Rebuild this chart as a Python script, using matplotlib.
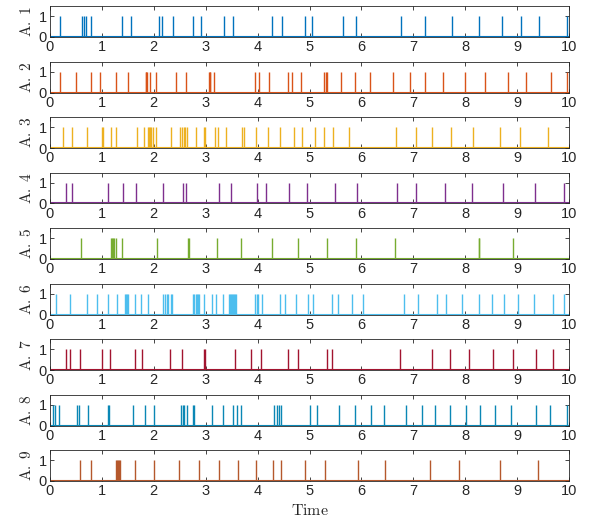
"""
Spike trains for nine units over a 10 s window, one panel per unit.
"""
import matplotlib.pyplot as plt

plt.rcParams["font.family"] = ["Liberation Sans", "DejaVu Sans"]
plt.rcParams["mathtext.fontset"] = "cm"

# spike times (s) for each unit
a1 = [0.197, 0.62, 0.656, 0.692, 0.787, 1.385, 1.56, 2.106, 2.15, 2.376,
      2.762, 2.915, 3.353, 3.52, 4.27, 4.475, 4.905, 5.05, 5.64, 5.896,
      6.757, 7.23, 7.74, 8.265, 8.70, 9.067, 9.417, 9.96]
a2 = [0.197, 0.51, 0.794, 0.955, 1.268, 1.509, 1.844, 1.858, 1.873, 1.924,
      2.041, 2.435, 2.617, 3.061, 3.076, 3.09, 3.163, 3.95, 4.023, 4.22,
      4.584, 4.657, 4.832, 5.284, 5.313, 5.342, 5.612, 5.882, 6.159, 6.611,
      6.939, 7.23, 7.573, 7.988, 8.382, 8.819, 9.176, 9.65, 9.96]
a3 = [0.248, 0.43, 0.707, 0.999, 1.02, 1.166, 1.268, 1.676, 1.808, 1.888,
      1.91, 1.932, 1.954, 1.975, 2.034, 2.325, 2.5, 2.537, 2.573, 2.602,
      2.631, 2.821, 2.966, 2.988, 3.185, 3.243, 3.389, 3.695, 3.732, 3.965,
      4.198, 4.431, 4.708, 4.861, 5.102, 5.277, 5.445, 5.766, 6.669, 7.048,
      7.362, 7.726, 8.149, 8.673, 9.06, 9.592]
a4 = [0.313, 0.423, 1.122, 1.399, 1.662, 2.172, 2.558, 2.617, 3.265, 3.491,
      3.987, 4.162, 4.599, 4.949, 5.496, 5.911, 6.684, 7.048, 7.617, 8.127,
      8.732, 9.352, 9.913]
a5 = [0.59, 1.173, 1.195, 1.217, 1.239, 1.276, 1.378, 2.055, 2.66, 2.67,
      3.222, 3.681, 4.286, 4.774, 5.328, 5.889, 6.64, 8.265, 8.275, 8.914]
a6 = [0.124, 0.379, 0.707, 0.911, 1.122, 1.29, 1.436, 1.458, 1.48, 1.509,
      1.64, 1.757, 1.888, 2.179, 2.216, 2.245, 2.281, 2.325, 2.354, 2.762,
      2.784, 2.806, 2.828, 2.857, 2.879, 2.966, 3.12, 3.207, 3.331, 3.44,
      3.46, 3.48, 3.50, 3.52, 3.54, 3.56, 3.58, 3.95, 3.98, 4.016, 4.082,
      4.424, 4.534, 4.738, 4.978, 5.066, 5.43, 5.554, 5.824, 6.028, 6.815,
      7.085, 7.449, 7.631, 7.937, 8.265, 8.52, 8.739, 9.016, 9.322, 9.687,
      9.913]
a7 = [0.299, 0.379, 0.569, 1.006, 1.159, 1.633, 1.764, 2.318, 2.544, 2.966,
      2.988, 3.564, 3.878, 4.06, 4.577, 4.781, 5.328, 5.43, 6.735, 7.354,
      7.704, 8.069, 8.528, 8.929, 9.359, 9.687]
a8 = [0.051, 0.087, 0.182, 0.517, 0.561, 0.729, 1.108, 1.144, 1.603, 1.822,
      2.012, 2.529, 2.558, 2.587, 2.631, 2.748, 2.777, 3.112, 3.324, 3.528,
      3.608, 3.681, 4.322, 4.366, 4.41, 4.453, 5.007, 5.153, 5.576, 5.882,
      6.188, 6.429, 6.866, 7.172, 7.413, 7.704, 8.01, 8.287, 8.579, 8.885,
      9.366, 9.636, 9.96]
a9 = [0.569, 0.787, 1.27, 1.29, 1.31, 1.33, 1.35, 1.64, 2.012, 2.485,
      2.879, 3.251, 3.615, 3.965, 4.293, 4.453, 4.92, 5.299, 5.926, 6.458,
      7.318, 7.879, 8.666, 9.402]

trains = [a1, a2, a3, a4, a5, a6, a7, a8, a9]
names = ["A. 1", "A. 2", "A. 3", "A. 4", "A. 5", "A. 6", "A. 7", "A. 8", "A. 9"]
colors = ["#0072BD", "#D95319", "#EDB120", "#7E2F8E", "#77AC30",
          "#4DBEEE", "#A2142F", "#0A87B5", "#B5582C"]

W, H = 594, 518
fig = plt.figure(figsize=(W / 100, H / 100), dpi=100)

left, right = 50, 569
ax_h = 31
first_bottom = 37
pitch = 55.5

for i, (spikes, name, c) in enumerate(zip(trains, names, colors)):
    bottom_px = first_bottom + pitch * i
    ax = fig.add_axes([left / W, 1 - bottom_px / H, (right - left) / W, ax_h / H])
    ax.vlines(spikes, 0, 1, color=c, linewidth=1.0)
    ax.plot([0, 10], [0, 0], color=c, linewidth=1.5)
    ax.set_xlim(0, 10)
    ax.set_ylim(0, 1.5)
    ax.set_xticks(range(0, 11))
    ax.set_yticks([0, 1])
    ax.tick_params(direction="in", top=True, right=True, length=3,
                   width=0.6, labelsize=10.5, colors="#262626", pad=2.5)
    for s in ax.spines.values():
        s.set_linewidth(0.6)
        s.set_color("#262626")
    ax.set_ylabel(r"$\mathrm{" + name.replace(" ", r"\ ") + "}$",
                  fontsize=11, labelpad=3, color="#262626")
    if i == len(trains) - 1:
        ax.set_xlabel(r"$\mathrm{Time}$", fontsize=11.5, labelpad=3,
                      color="#262626")

fig.savefig("out.png", dpi=100)
